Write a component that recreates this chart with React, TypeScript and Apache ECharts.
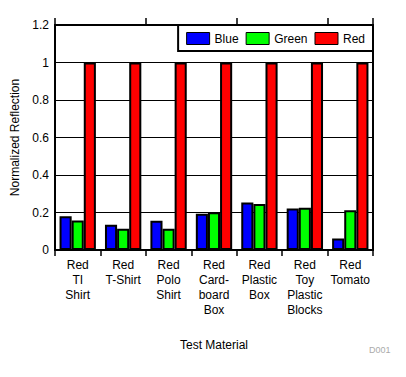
import React, { useEffect, useRef } from "react";
import * as echarts from "echarts";

const categories = [
  "Red\nTI\nShirt",
  "Red\nT-Shirt",
  "Red\nPolo\nShirt",
  "Red\nCard-\nboard\nBox",
  "Red\nPlastic\nBox",
  "Red\nToy\nPlastic\nBlocks",
  "Red\nTomato",
];
const blueValues = [0.18, 0.135, 0.156, 0.194, 0.254, 0.222, 0.062];
const greenValues = [0.158, 0.114, 0.114, 0.201, 0.245, 0.226, 0.212];
const redValues = [1, 1, 1, 1, 1, 1, 1];

const FONT = "Arial, 'Liberation Sans', sans-serif";

export default function App() {
  const ref = useRef<HTMLDivElement>(null);
  useEffect(() => {
    if (!ref.current) return;
    const chart = echarts.init(ref.current, null, { renderer: "svg" });
    const barStyle = (color: string) => ({
      color,
      borderColor: "#000",
      borderWidth: 2,
    });
    chart.setOption({
      animation: false,
      backgroundColor: "#fff",
      textStyle: { fontFamily: FONT },
      grid: {
        left: 55,
        right: 33,
        top: 25,
        bottom: 127,
        show: true,
        borderColor: "#000",
        borderWidth: 2,
        backgroundColor: "transparent",
      },
      legend: {
        right: 33,
        top: 25,
        orient: "horizontal",
        borderColor: "#000",
        borderWidth: 2,
        backgroundColor: "#fff",
        padding: [7, 8, 6, 8],
        itemWidth: 23,
        itemHeight: 12,
        itemGap: 7,
        icon: "rect",
        itemStyle: { borderWidth: 1, borderColor: "#000" },
        textStyle: { fontFamily: FONT, fontSize: 12, color: "#000", padding: [0, 0, 0, 0] },
        data: ["Blue", "Green", "Red"],
      },
      xAxis: [
        {
          type: "category",
          data: categories,
          position: "bottom",
          axisLine: { show: false },
          axisTick: { show: true, length: 6, lineStyle: { color: "#000", width: 1.5 } },
          axisLabel: {
            color: "#000",
            fontFamily: FONT,
            fontSize: 12,
            lineHeight: 15,
            margin: 7,
            interval: 0,
          },
          name: "Test Material",
          nameLocation: "middle",
          nameGap: 89,
          nameTextStyle: { color: "#000", fontFamily: FONT, fontSize: 12 },
        },
        {
          type: "category",
          data: categories,
          position: "top",
          axisLine: { show: false },
          axisTick: { show: true, length: 7, lineStyle: { color: "#000", width: 1.5 } },
          axisLabel: { show: false },
        },
      ],
      yAxis: {
        type: "value",
        min: 0,
        max: 1.2,
        interval: 0.2,
        axisLine: { show: false },
        axisTick: { show: false },
        splitLine: { show: true, lineStyle: { color: "#000", width: 1 } },
        axisLabel: { color: "#000", fontFamily: FONT, fontSize: 12, margin: 6 },
        name: "Normalized Reflection",
        nameLocation: "middle",
        nameGap: 28,
        nameRotate: 90,
        nameTextStyle: { color: "#000", fontFamily: FONT, fontSize: 12 },
      },
      series: [
        {
          name: "Blue",
          type: "bar",
          data: blueValues,
          barGap: "0%",
          barCategoryGap: "20%",
          itemStyle: barStyle("#0000ff"),
        },
        {
          name: "Green",
          type: "bar",
          data: greenValues,
          itemStyle: barStyle("#00ff00"),
        },
        {
          name: "Red",
          type: "bar",
          data: redValues,
          itemStyle: barStyle("#ff0000"),
        },
      ],
      graphic: [
        {
          type: "text",
          left: 369,
          top: 345,
          style: { text: "D001", fill: "#aaaaaa", fontSize: 9, fontFamily: FONT },
        },
      ],
    });
    return () => chart.dispose();
  }, []);
  return (
    <div
      ref={ref}
      style={{ position: "fixed", left: 0, top: 0, width: 406, height: 377 }}
    />
  );
}
